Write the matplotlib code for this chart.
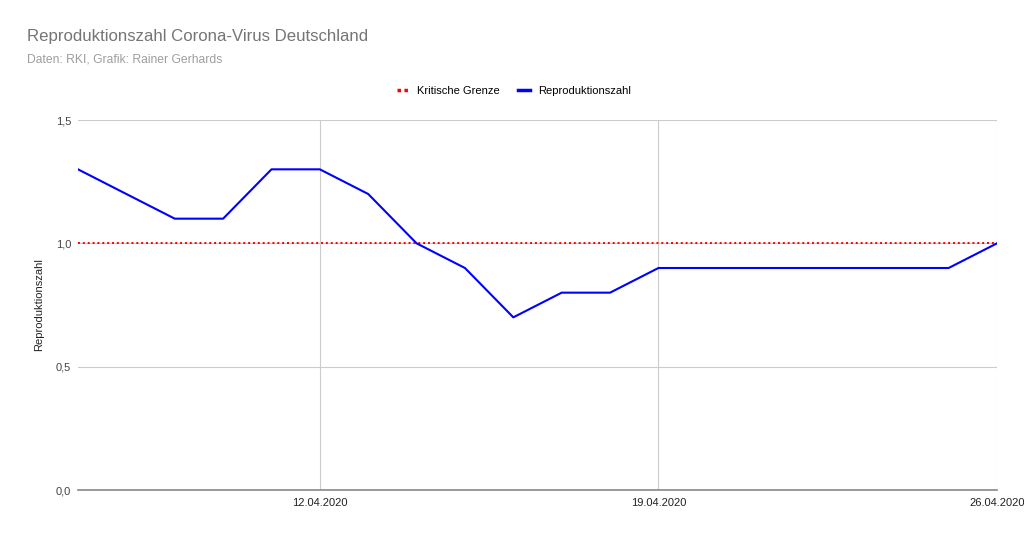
import numpy as np
import matplotlib
matplotlib.use("Agg")
import matplotlib.pyplot as plt
import matplotlib.dates as mdates
from datetime import date, timedelta

plt.rcParams['font.family'] = ['Liberation Sans', 'DejaVu Sans']

# Daten
dates = [date(2020, 4, 7) + timedelta(days=i) for i in range(20)]
r_values = [1.3, 1.2, 1.1, 1.1, 1.3, 1.3, 1.2, 1.0, 0.9, 0.7,
            0.8, 0.8, 0.9, 0.9, 0.9, 0.9, 0.9, 0.9, 0.9, 1.0]
grenze = [1.0] * len(dates)
tick_dates = [date(2020, 4, 12), date(2020, 4, 19), date(2020, 4, 26)]
y_ticks = [0.0, 0.5, 1.0, 1.5]

fig = plt.figure(figsize=(10.24, 5.35), dpi=100)
ax = fig.add_axes([78 / 1024, 45 / 535, 919 / 1024, 370 / 535])

ax.plot(dates, grenze, color='#ff0000', linestyle=(0, (1, 1.5)), linewidth=1.4,
        label='Kritische Grenze', zorder=3)
ax.plot(dates, r_values, color='#0000ff', linewidth=1.5, label='Reproduktionszahl', zorder=4)

ax.set_xlim(dates[0], dates[-1])
ax.set_ylim(0, 1.5)
ax.set_xticks(tick_dates)
ax.xaxis.set_major_formatter(mdates.DateFormatter('%d.%m.%Y'))
ax.set_yticks(y_ticks)
ax.set_yticklabels([f"{v:.1f}".replace('.', ',') for v in y_ticks])

ax.grid(True, color='#cccccc', linewidth=0.8)
ax.set_axisbelow(True)
for s in ['top', 'left', 'right']:
    ax.spines[s].set_visible(False)
ax.spines['bottom'].set_color('#888888')
ax.spines['bottom'].set_linewidth(1.2)
ax.tick_params(length=0, labelsize=8, colors='#222222', pad=6)
ax.tick_params(axis='y', pad=5)
for lbl in ax.get_yticklabels():
    lbl.set_color('#444444')

ax.set_ylabel('Reproduktionszahl', fontsize=8, color='#222222', labelpad=8)

fig.text(27 / 1024, 1 - 37 / 535, 'Reproduktionszahl Corona-Virus Deutschland',
         fontsize=12.1, color='#757575', va='center')
fig.text(27 / 1024, 1 - 60 / 535, 'Daten: RKI, Grafik: Rainer Gerhards',
         fontsize=8.7, color='#9e9e9e', va='center')

leg = fig.legend(loc='center', bbox_to_anchor=(514 / 1024, 1 - 91 / 535), ncol=2,
                 frameon=False, fontsize=8, handlelength=1.1, columnspacing=1.6,
                 handletextpad=0.7)
for line in leg.get_lines():
    line.set_linewidth(2.5)
leg.get_lines()[0].set_linestyle((0, (1, 1)))

fig.savefig('out.png', dpi=100)
